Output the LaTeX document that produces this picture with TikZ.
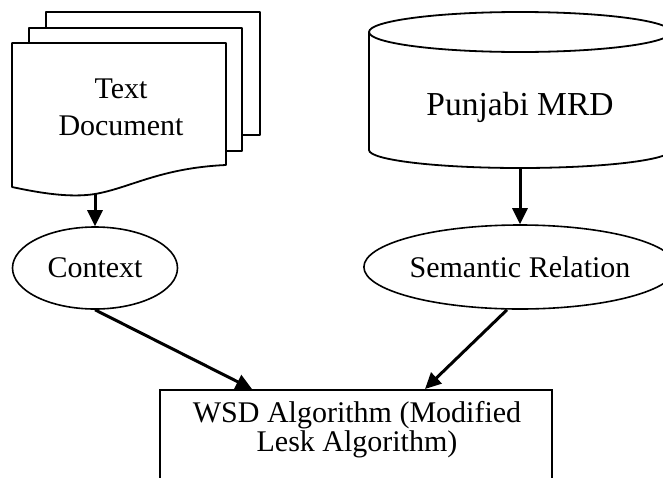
\documentclass[tikz,border=0pt]{standalone}
\usepackage{fontspec}
\setmainfont{Liberation Serif}
\usetikzlibrary{arrows.meta,shapes.geometric}
\begin{document}
\begin{tikzpicture}[x=1pt,y=1pt,
  shape line/.style={line width=1.8pt, line join=round},
  arr/.style={line width=3pt, -{Triangle[length=16pt,width=15pt]}},
  oval/.style={ellipse, draw, line width=1.6pt, inner sep=0pt, font=\fontsize{30}{37}\selectfont},
  lbl/.style={align=center, inner sep=0pt, font=\fontsize{30}{37}\selectfont}]
\useasboundingbox (0,0) rectangle (663,-477);
\clip (0,0) rectangle (663,-477);
\fill[white] (0,0) rectangle (663,-477);

% document stack
\draw[shape line, fill=white] (46,-12) rectangle (260,-135);
\draw[shape line, fill=white] (29,-28) rectangle (242,-151);
\draw[shape line, fill=white] (12,-43) -- (226,-43) -- (226,-165)
  .. controls (160,-168) and (130,-188) .. (95,-194)
  .. controls (70,-198) and (40,-193) .. (12,-187) -- cycle;
\node[lbl] (doc) at (121,-107) {Text\\Document};
\coordinate (docbot) at (95,-194);

% cylinder
\draw[shape line, fill=white] (369,-32) -- (369,-150)
  arc[start angle=180, end angle=360, x radius=151, y radius=18] -- (671,-32);
\draw[shape line] (520,-32) ellipse [x radius=151, y radius=20];
\node[lbl, font=\fontsize{33.5}{40}\selectfont] (mrd) at (520,-107.5) {Punjabi MRD};
\coordinate (mrdbot) at (520,-168);

% ellipses
\node[oval, minimum width=165pt, minimum height=82pt] (ctx) at (95,-268) {Context};
\node[oval, minimum width=306pt, minimum height=84pt] (sem) at (520,-267) {Semantic Relation};

% algorithm box
\node[draw, line width=1.8pt, anchor=north, minimum width=392pt, minimum height=140pt, inner sep=0pt] (wsd) at (356,-389) {};
\node[align=center, inner sep=0pt, font=\fontsize{30}{29}\selectfont] (wsdtxt) at (357,-430) {WSD Algorithm (Modified\\Lesk Algorithm)};

% connectors
\draw[arr] (docbot) -- (ctx.north);
\draw[arr] (mrdbot) -- (sem.north);
\draw[arr] (ctx.south) -- ([xshift=-104pt]wsd.north);
\draw[arr] ([xshift=-13pt]sem.south) -- ([xshift=69pt]wsd.north);
\end{tikzpicture}
\end{document}
